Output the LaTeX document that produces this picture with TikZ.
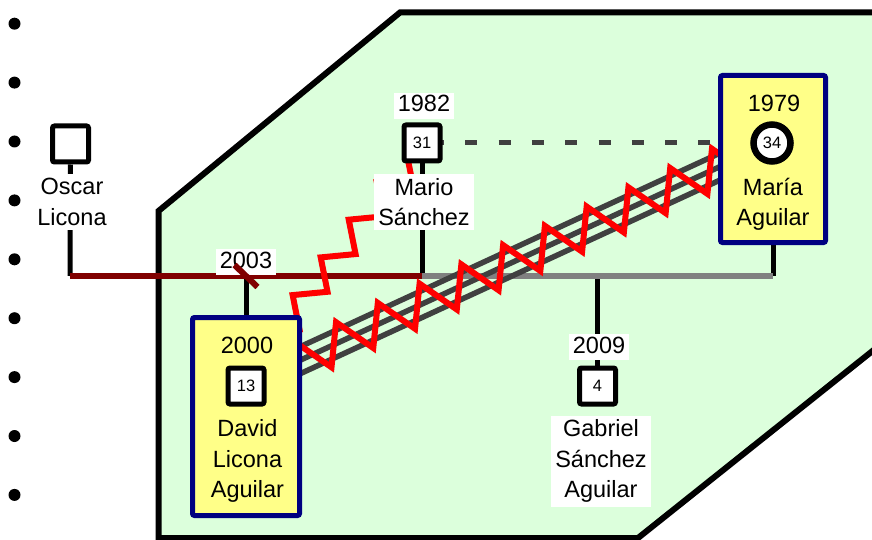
\documentclass[tikz,border=0pt]{standalone}
\usepackage{fontspec}
\setmainfont{Liberation Sans}
\usetikzlibrary{backgrounds,decorations.pathmorphing}
\definecolor{zonegreen}{RGB}{220,255,220}
\definecolor{boxyellow}{RGB}{255,255,136}
\definecolor{boxnavy}{RGB}{0,0,128}
\definecolor{exred}{RGB}{128,0,0}
\definecolor{margray}{RGB}{128,128,128}
\definecolor{linkgray}{RGB}{64,64,64}

\begin{document}
\begin{tikzpicture}[x=1pt,y=-1pt,
male/.style={draw,line width=5pt,rounded corners=2pt,fill=white,minimum size=36pt,inner sep=0pt,font=\fontsize{16.5}{16.5}\selectfont},
female/.style={draw,circle,line width=6.5pt,fill=white,minimum size=37pt,inner sep=0pt,font=\fontsize{16.5}{16.5}\selectfont},
focus/.style={draw=boxnavy,fill=boxyellow,line width=5pt,rounded corners=2pt,inner sep=0pt},
pname/.style={align=center,inner sep=4pt,font=\fontsize{23.5}{30.5}\selectfont},
year/.style={anchor=base,inner xsep=4pt,inner ysep=2pt,text height=17pt,text depth=5pt,font=\fontsize{23.5}{30.5}\selectfont},
zone/.style={draw=black,fill=zonegreen,line width=6pt},
stem/.style={draw=black,line width=5pt},
exline/.style={draw=exred,line width=6pt},
marline/.style={draw=margray,line width=6pt},
fused/.style={draw=linkgray,line width=5.5pt},
hostile/.style 2 args={draw=red,line width=6pt,decorate,decoration={zigzag,amplitude=#1,segment length=#2}},
distant/.style={draw=linkgray,line width=5pt,dash pattern=on 12pt off 21.3pt,dash phase=23.3pt}]
\useasboundingbox (0,0) rectangle (872,540);

\foreach \i in {0,...,8}
\fill (14.5,23.7+58.9*\i) circle (6pt);

\node[male] (oscar) at (70.5,144) {};
\node[pname,fill=white] (oscarname) at (72,202) {Oscar\\Licona};

\node[male] (mario) at (422,143) {31};
\node[year,fill=white] (marioyear) at (424,112) {1982};
\node[pname,fill=white] (marioname) at (424,202) {Mario\\Sánchez};

\node[focus,minimum width=105pt,minimum height=167pt] (mariabox) at (773,159) {};
\node[year] (mariayear) at (774,112) {1979};
\node[female] (maria) at (772,143) {34};
\node[pname] (marianame) at (773,204.3) {María\\Aguilar};

\node[focus,minimum width=107pt,minimum height=198pt] (davidbox) at (246,416.5) {};
\node[year] (davidyear) at (247,353) {2000};
\node[male] (david) at (246,386) {13};
\node[pname] (davidname) at (247.5,461.2) {David\\Licona\\Aguilar};

\node[male] (gabriel) at (597.5,386) {4};
\node[year,fill=white] (gabrielyear) at (599,353) {2009};
\node[pname,fill=white] (gabrielname) at (601,461.2) {Gabriel\\Sánchez\\Aguilar};

\node[year,fill=white] (divyear) at (246,268) {2003};

\coordinate (oscarmar) at (70,276);
\coordinate (mariomar) at (mario |- oscarmar);
\coordinate (mariamar) at (mariabox |- oscarmar);
\coordinate (divmark) at (davidbox |- oscarmar);
\coordinate (gabrielmar) at (gabriel |- oscarmar);
\coordinate (hostA) at (292,364);
\coordinate (hostB) at (757,149.5);
\coordinate (dmstart) at (268,350);

\draw[exline] (divmark) ++(-11.5,-11) -- ++(23,22);

\begin{scope}[on background layer]
\clip (0,0) rectangle (872,540);
\draw[zone] (158.5,538) -- (158.5,211) -- (400,12.5) -- (890,12.5) -- (890,337) -- (638,538) -- cycle;

\draw[stem] (oscar) -- (oscarmar);
\draw[stem] (mario) -- (mariomar);
\draw[stem] (mariabox) -- (mariamar);
\draw[stem] (divmark) -- (davidbox);
\draw[stem] (gabrielmar) -- (gabriel);
\draw[exline] (oscarmar) -- (mariomar);
\draw[marline] (mariomar) -- (mariamar);

\foreach \o in {-13.5,0,13.5}
\draw[fused] ([yshift=\o]hostA) -- ([yshift=\o]hostB);
\draw[hostile={19.5pt}{46pt}] (hostA) -- (hostB);
\draw[hostile={13pt}{47pt}] (dmstart) -- (mario.center);
\draw[distant] (mario.center) -- (maria.center);
\end{scope}
\end{tikzpicture}
\end{document}
